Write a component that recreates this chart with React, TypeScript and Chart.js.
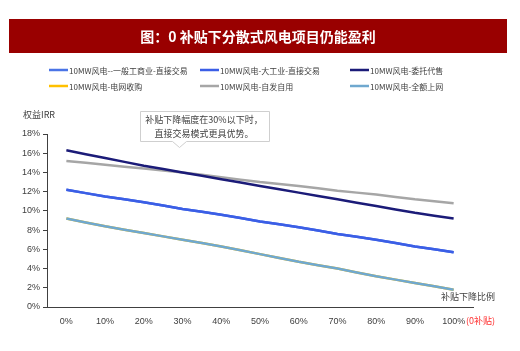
import React, { useEffect, useRef } from "react";
import { Chart, registerables } from "chart.js";

Chart.register(...registerables);

const categories = ["0%", "10%", "20%", "30%", "40%", "50%", "60%", "70%", "80%", "90%", "100%"];
const seriesNames = [
  "10MW风电--一般工商业-直接交易",
  "10MW风电-大工业-直接交易",
  "10MW风电-委托代售",
  "10MW风电-电网收购",
  "10MW风电-自发自用",
  "10MW风电-全额上网",
];
const seriesColors = ["#4A74E6", "#3B5EE6", "#1B1B78", "#FFC000", "#A6A6A6", "#6FA8CF"];
const generalDirect = [12.2, 11.5, 10.9, 10.2, 9.6, 8.9, 8.3, 7.6, 7.0, 6.3, 5.7];
const largeIndustryDirect = [12.2, 11.5, 10.9, 10.2, 9.6, 8.9, 8.3, 7.6, 7.0, 6.3, 5.7];
const entrustedSale = [16.3, 15.5, 14.7, 14.0, 13.3, 12.6, 11.9, 11.2, 10.5, 9.8, 9.2];
const gridPurchase = [9.2, 8.4, 7.7, 7.0, 6.3, 5.5, 4.7, 4.0, 3.2, 2.5, 1.8];
const selfUse = [15.2, 14.8, 14.4, 14.0, 13.5, 13.0, 12.6, 12.1, 11.7, 11.2, 10.8];
const fullGrid = [9.2, 8.4, 7.7, 7.0, 6.3, 5.5, 4.7, 4.0, 3.2, 2.5, 1.8];
const seriesData = [generalDirect, largeIndustryDirect, entrustedSale, gridPurchase, selfUse, fullGrid];
const seriesOrder = [1, 0, 0, 2, 0, 0];

const titleText = "图：0 补贴下分散式风电项目仍能盈利";
const yAxisTitle = "权益IRR";
const xAxisTitle = "补贴下降比例";
const zeroSubsidyNote = "(0补贴)";
const calloutLines = ["补贴下降幅度在30%以下时，", "直接交易模式更具优势。"];

const CJK = '"Noto Sans CJK SC", sans-serif';
const NUM = '"Liberation Sans Narrow", "Liberation Sans", sans-serif';

const decorPlugin = {
  id: "decor",
  afterDraw(chart: any) {
    const ctx = chart.ctx as CanvasRenderingContext2D;
    ctx.save();
    // title bar
    ctx.fillStyle = "#990000";
    ctx.fillRect(9, 19, 498, 34);
    ctx.fillStyle = "#ffffff";
    ctx.font = `bold 14px ${CJK}`;
    ctx.textAlign = "center";
    ctx.textBaseline = "middle";
    ctx.fillText(titleText, 258, 36.5);

    // legend
    const colX = [49, 200, 350];
    const rowY = [70, 86];
    ctx.font = `8px ${CJK}`;
    ctx.textAlign = "left";
    chart.data.datasets.forEach((ds: any, i: number) => {
      const x = colX[i % 3];
      const y = rowY[Math.floor(i / 3)];
      ctx.strokeStyle = ds.borderColor;
      ctx.lineWidth = 2.5;
      ctx.beginPath();
      ctx.moveTo(x, y);
      ctx.lineTo(x + 19, y);
      ctx.stroke();
      ctx.fillStyle = "#404040";
      ctx.fillText(ds.label, x + 20, y + 0.5);
    });

    // y axis title
    ctx.fillStyle = "#404040";
    ctx.font = `9px ${CJK}`;
    ctx.textAlign = "left";
    ctx.fillText(yAxisTitle, 23, 115);

    // x axis title
    ctx.fillText(xAxisTitle, 441, 297);
    ctx.fillStyle = "#FF3030";
    ctx.fillText(zeroSubsidyNote, 466, 321);

    // callout box
    const bx = 140, by = 111, bw = 129, bh = 30;
    ctx.fillStyle = "#ffffff";
    ctx.strokeStyle = "#cfcfcf";
    ctx.lineWidth = 1;
    ctx.beginPath();
    ctx.moveTo(bx + 0.5, by + 0.5);
    ctx.lineTo(bx + bw + 0.5, by + 0.5);
    ctx.lineTo(bx + bw + 0.5, by + bh + 0.5);
    ctx.lineTo(186.5, by + bh + 0.5);
    ctx.lineTo(179.5, by + bh + 6.5);
    ctx.lineTo(172.5, by + bh + 0.5);
    ctx.lineTo(bx + 0.5, by + bh + 0.5);
    ctx.closePath();
    ctx.fill();
    ctx.stroke();
    ctx.fillStyle = "#404040";
    ctx.font = `9px ${CJK}`;
    ctx.textAlign = "center";
    ctx.fillText(calloutLines[0], 204, 119.5);
    ctx.fillText(calloutLines[1], 204, 133.5);
    ctx.restore();
  },
};

export default function App() {
  const ref = useRef<HTMLCanvasElement | null>(null);
  useEffect(() => {
    if (!ref.current) return;
    const chart = new Chart(ref.current, {
      type: "line",
      data: {
        labels: categories,
        datasets: seriesNames.map((name, i) => ({
          label: name,
          data: seriesData[i],
          borderColor: seriesColors[i],
          backgroundColor: seriesColors[i],
          borderWidth: 2.5,
          pointRadius: 0,
          tension: 0.1,
          order: seriesOrder[i],
        })),
      },
      options: {
        responsive: false,
        animation: false,
        layout: { padding: { top: 134, left: 0, right: 47, bottom: 0 } },
        plugins: {
          legend: { display: false },
          tooltip: { enabled: false },
          title: { display: false },
        },
        scales: {
          x: {
            type: "category",
            offset: true,
            grid: { display: false, drawTicks: false },
            border: { display: true, color: "#404040", width: 1 },
            ticks: {
              color: "#404040",
              font: { family: NUM, size: 9 },
              padding: 9,
              maxRotation: 0,
              autoSkip: false,
            },
            afterFit(scale: any) {
              scale.height = 44;
            },
          },
          y: {
            min: 0,
            max: 18,
            grid: { drawOnChartArea: false, drawTicks: true, tickLength: 4, color: "#404040" },
            border: { display: true, color: "#404040", width: 1 },
            ticks: {
              stepSize: 2,
              color: "#404040",
              font: { family: NUM, size: 9 },
              padding: 3,
              callback: (v: any) => `${v}%`,
            },
            afterFit(scale: any) {
              scale.width = 47;
            },
          },
        },
      },
      plugins: [decorPlugin],
    });
    return () => chart.destroy();
  }, []);
  return (
    <div style={{ position: "absolute", left: 0, top: 0, width: 520, height: 351, background: "#fff" }}>
      <canvas ref={ref} width={520} height={351} style={{ display: "block" }} />
    </div>
  );
}
